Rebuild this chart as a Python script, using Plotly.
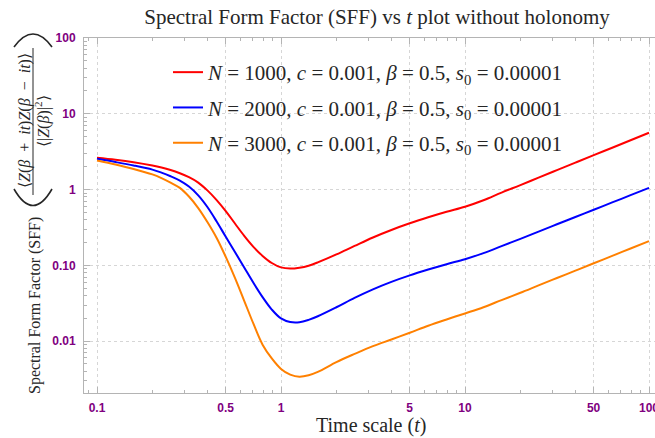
import math
import plotly.graph_objects as go

# ---------------- data ----------------
t = [0.1, 0.126, 0.158, 0.2, 0.224, 0.251, 0.282, 0.316, 0.355, 0.398,
     0.447, 0.501, 0.562, 0.631, 0.708, 0.794, 0.891, 1.0, 1.122, 1.259,
     1.413, 1.585, 2.0, 2.51, 3.16, 3.98, 5.01, 6.31, 7.94, 10.0,
     12.6, 15.8, 20.0, 25.1, 31.6, 39.8, 50.1, 63.1, 79.4, 100.0]

sff_n1000 = [2.637, 2.481, 2.301, 2.082, 1.960, 1.816, 1.643, 1.456, 1.236, 0.9761,
             0.7275, 0.5197, 0.3569, 0.2452, 0.1757, 0.1334, 0.1075, 0.0941, 0.0908, 0.0932,
             0.0991, 0.1095, 0.1395, 0.1806, 0.2335, 0.2932, 0.3591, 0.4307, 0.5088, 0.5939,
             0.7232, 0.9131, 1.146, 1.439, 1.806, 2.266, 2.844, 3.569, 4.480, 5.623]

sff_n2000 = [2.543, 2.308, 2.082, 1.833, 1.674, 1.501, 1.313, 1.095, 0.8388, 0.5885,
             0.3793, 0.2385, 0.1501, 0.09384, 0.05884, 0.03816, 0.02613, 0.01995, 0.01789, 0.01778,
             0.01912, 0.02133, 0.02802, 0.03725, 0.04833, 0.06065, 0.07386, 0.08806, 0.1037, 0.1207,
             0.1451, 0.1794, 0.2239, 0.2793, 0.3484, 0.4345, 0.5423, 0.6765, 0.8439, 1.053]

sff_n3000 = [2.422, 2.145, 1.873, 1.585, 1.417, 1.236, 1.053, 0.8091, 0.5708, 0.3736,
             0.2300, 0.1294, 0.06847, 0.03410, 0.01699, 0.008993, 0.005922, 0.004307, 0.003624, 0.003400,
             0.003548, 0.003932, 0.005292, 0.006785, 0.008597, 0.01053, 0.01293, 0.01599, 0.01935, 0.02322,
             0.02802, 0.03484, 0.04346, 0.05437, 0.06806, 0.08517, 0.1066, 0.1334, 0.1669, 0.2088]

series_names = [
    "<i>N</i> = 1000, <i>c</i> = 0.001, <i>β</i> = 0.5, <i>s</i><sub>0</sub> = 0.00001",
    "<i>N</i> = 2000, <i>c</i> = 0.001, <i>β</i> = 0.5, <i>s</i><sub>0</sub> = 0.00001",
    "<i>N</i> = 3000, <i>c</i> = 0.001, <i>β</i> = 0.5, <i>s</i><sub>0</sub> = 0.00001",
]
series_colors = ["#ff0000", "#0000ff", "#ff8000"]

x_tickvals = [0.1, 0.5, 1, 5, 10, 50, 100]
x_ticktext = ["0.1", "0.5", "1", "5", "10", "50", "100"]
y_tickvals = [0.01, 0.1, 1, 10, 100]
y_ticktext = ["0.01", "0.10", "1", "10", "100"]

# ---------------- layout geometry ----------------
W, H = 655, 438
L, T, R, B = 84, 38, 0, 45
PW, PH = W - L - R, H - T - B


def px(xp):
    return (xp - L) / PW


def py(yp):
    return (H - B - yp) / PH


x_minor = [m * 10 ** e for e in (-2, -1, 0, 1) for m in range(2, 10) if 0.085 < m * 10 ** e < 101]
x_minor = [v for v in x_minor if v not in x_tickvals]
y_minor = [m * 10 ** e for e in (-3, -2, -1, 0, 1) for m in range(2, 10) if 0.002 < m * 10 ** e < 100]

fig = go.Figure()
for ys, nm, col, g in zip([sff_n1000, sff_n2000, sff_n3000], series_names, series_colors, ["a", "b", "c"]):
    fig.add_trace(go.Scatter(x=t, y=ys, mode="lines", name=nm, legendgroup=g,
                             line=dict(color=col, width=2, shape="spline", smoothing=1.0)))

axcol = "#b4b4b4"
tickfont = dict(family="Liberation Sans", size=12, color="#800080", weight="bold")
common = dict(type="log", showline=True, linecolor=axcol, linewidth=1, ticks="inside",
              ticklen=6, tickcolor=axcol, tickwidth=1, showgrid=True, gridcolor="#d6d6d6",
              griddash="dot", gridwidth=1, zeroline=False, tickfont=tickfont,
              tickmode="array", ticklabeloverflow="allow")

fig.update_layout(
    width=W, height=H,
    margin=dict(l=L, r=R, t=T, b=B, autoexpand=False),
    paper_bgcolor="white", plot_bgcolor="white",
    xaxis=dict(range=[math.log10(0.1) - 13 / 184, 2 + 6 / 184], tickvals=x_tickvals,
               ticktext=x_ticktext, mirror="ticks", ticklabelstandoff=4,
               minor=dict(tickvals=x_minor, ticks="inside", ticklen=3, tickcolor=axcol, showgrid=False),
               **common),
    yaxis=dict(range=[-2.684, 2.0], tickvals=y_tickvals, ticktext=y_ticktext, mirror=False,
               ticklabelstandoff=5,
               minor=dict(tickvals=y_minor, ticks="inside", ticklen=3, tickcolor=axcol, showgrid=False),
               **common),
    title=dict(text="Spectral Form Factor (SFF) vs <i>t</i> plot without holonomy",
               font=dict(family="Liberation Serif", size=21, color="#262626"),
               xref="paper", x=px(377), xanchor="center",
               yref="container", y=1 - 17 / H, yanchor="middle"),
    legend=dict(x=px(168), y=py(52), xanchor="left", yanchor="top",
                bgcolor="rgba(0,0,0,0)", traceorder="grouped", tracegroupgap=5,
                itemwidth=30,
                font=dict(family="Liberation Serif", size=21, color="#262626")),
    showlegend=True,
)

serif = "Liberation Serif"
sp = "\u2002"
ann = [
    dict(text="Time scale (<i>t</i>)", x=px(371), y=py(425), font=dict(family=serif, size=20, color="#262626")),
    dict(text="Spectral Form Factor (SFF)", x=px(35), y=py(306), textangle=-90,
         font=dict(family=serif, size=16, color="#262626")),
    dict(text=f"⟨<i>Z</i>(<i>β</i>{sp}+{sp}<i>it</i>)<i>Z</i>(<i>β</i>{sp}−{sp}<i>it</i>)⟩",
         x=px(25), y=py(121), textangle=-90,
         font=dict(family=serif, size=16, color="#262626")),
    dict(text="⟨|<i>Z</i>(<i>β</i>)|<sup>2</sup>⟩", x=px(42), y=py(121), textangle=-90,
         font=dict(family=serif, size=16, color="#262626")),
]
for a in ann:
    a.update(xref="paper", yref="paper", showarrow=False, xanchor="center", yanchor="middle")
fig.update_layout(annotations=ann)

# fraction bar and big parentheses of the y title
fig.add_shape(type="line", xref="paper", yref="paper", x0=px(33), x1=px(33), y0=py(48), y1=py(195),
              line=dict(color="#262626", width=1))
fig.add_shape(type="path", xref="paper", yref="paper",
              path=f"M {px(14)},{py(189)} Q {px(33)},{py(222)} {px(52)},{py(189)}",
              line=dict(color="#262626", width=1.6))
fig.add_shape(type="path", xref="paper", yref="paper",
              path=f"M {px(14)},{py(47)} Q {px(33)},{py(21)} {px(52)},{py(47)}",
              line=dict(color="#262626", width=1.6))

fig.write_html("out.html", config={"displayModeBar": False},
               post_script="document.body.style.margin='0';")
